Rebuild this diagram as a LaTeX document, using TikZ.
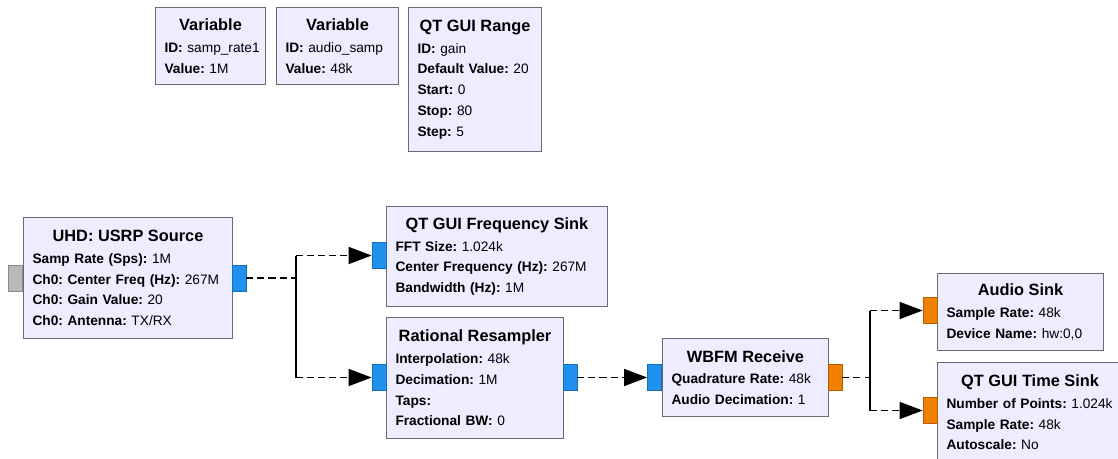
\documentclass[tikz,border=0pt]{standalone}
\usepackage{fontspec}
\setmainfont{Liberation Sans}
\usepackage{tikz}
\usepackage{xcolor}
\usetikzlibrary{arrows.meta}

\definecolor{blkfill}{RGB}{238,237,255}
\definecolor{blkline}{RGB}{105,105,115}
\definecolor{portblue}{RGB}{33,145,240}
\definecolor{portorange}{RGB}{240,128,0}
\definecolor{portgray}{RGB}{185,185,185}

\frenchspacing
\newcommand{\blocktitle}[1]{{\centering\fontsize{9.3}{11.8}\selectfont\bfseries #1\par}\vspace{0.6pt}}
\newcommand{\param}[2]{\mbox{\textbf{#1:} #2}\par}

\begin{document}
\begin{tikzpicture}[x=0.02cm,y=-0.02cm,every node/.style={font=\fontsize{7.8}{11.8}\selectfont},
  blk/.style={draw=blkline,fill=blkfill,line width=0.6pt,anchor=north west,inner xsep=0.18cm,inner ysep=0pt,align=left},
  port/.style={draw=#1!75!black,fill=#1,line width=0.4pt,minimum width=0.28cm,minimum height=0.52cm,inner sep=0pt},
  wire/.style={line width=0.8pt,dash pattern=on 4pt off 2.3pt},
  trunk/.style={line width=0.8pt},
  flow/.style={-{Triangle[length=0.46cm,width=0.34cm]}}]
\useasboundingbox (0,0) rectangle (1118,459);
\clip (0,0) rectangle (1118,459);

% variables
\node[blk,minimum width=2.2cm,minimum height=1.54cm,text width=1.84cm] (vrate) at (155,7)
  {\blocktitle{Variable}\param{ID}{samp\_rate1}\param{Value}{1M}};
\node[blk,minimum width=2.44cm,minimum height=1.54cm,text width=2.08cm] (vaudio) at (276,7)
  {\blocktitle{Variable}\param{ID}{audio\_samp}\param{Value}{48k}};
\node[blk,minimum width=2.66cm,minimum height=2.88cm,text width=2.3cm] (gain) at (408,7)
  {\blocktitle{QT GUI Range}\param{ID}{gain}\param{Default Value}{20}\param{Start}{0}\param{Stop}{80}\param{Step}{5}};

% blocks
\node[blk,minimum width=4.18cm,minimum height=2.42cm,text width=3.82cm] (src) at (23,217)
  {\blocktitle{UHD: USRP Source}\param{Samp Rate (Sps)}{1M}\param{Ch0: Center Freq (Hz)}{267M}\param{Ch0: Gain Value}{20}\param{Ch0: Antenna}{TX/RX}};
\node[blk,minimum width=4.42cm,minimum height=2cm,text width=4.06cm] (fsink) at (386,206)
  {\blocktitle{QT GUI Frequency Sink}\param{FFT Size}{1.024k}\param{Center Frequency (Hz)}{267M}\param{Bandwidth (Hz)}{1M}};
\node[blk,minimum width=3.54cm,minimum height=2.42cm,text width=3.18cm] (resamp) at (386,317)
  {\blocktitle{Rational Resampler}\param{Interpolation}{48k}\param{Decimation}{1M}\param{Taps}{}\param{Fractional BW}{0}};
\node[blk,minimum width=3.32cm,minimum height=1.56cm,text width=2.96cm] (wbfm) at (662,338)
  {\blocktitle{WBFM Receive}\param{Quadrature Rate}{48k}\param{Audio Decimation}{1}};
\node[blk,minimum width=3.32cm,minimum height=1.54cm,text width=2.96cm] (asink) at (937,273)
  {\blocktitle{Audio Sink}\param{Sample Rate}{48k}\param{Device Name}{hw:0,0}};
\node[blk,minimum width=3.7cm,minimum height=2cm,text width=3.34cm] (tsink) at (937,362)
  {\blocktitle{QT GUI Time Sink}\param{Number of Points}{1.024k}\param{Sample Rate}{48k}\param{Autoscale}{No}};

% ports
\node[port=portgray] (srcin) at (15.5,278) {};
\node[port=portblue] (srcout) at (239,278) {};
\node[port=portblue] (fsin) at (379,255.5) {};
\node[port=portblue] (rsin) at (379,377.5) {};
\node[port=portblue] (rsout) at (570,377.5) {};
\node[port=portblue] (wbin) at (654.5,377.5) {};
\node[port=portorange] (wbout) at (835,377.5) {};
\node[port=portorange] (asin) at (930,310.5) {};
\node[port=portorange] (tsin) at (930,410.5) {};

% connections
\coordinate (j1) at (296,278);
\coordinate (j2) at (870,377.5);
\draw[wire] (srcout.east) -- (j1);
\draw[trunk] (j1 |- fsin.west) -- (j1 |- rsin.west);
\draw[wire,flow] (j1 |- fsin.west) -- (fsin.west);
\draw[wire,flow] (j1 |- rsin.west) -- (rsin.west);
\draw[wire,flow] (rsout.east) -- (wbin.west);
\draw[wire] (wbout.east) -- (j2);
\draw[trunk] (j2 |- asin.west) -- (j2 |- tsin.west);
\draw[wire,flow] (j2 |- asin.west) -- (asin.west);
\draw[wire,flow] (j2 |- tsin.west) -- (tsin.west);
\end{tikzpicture}
\end{document}
